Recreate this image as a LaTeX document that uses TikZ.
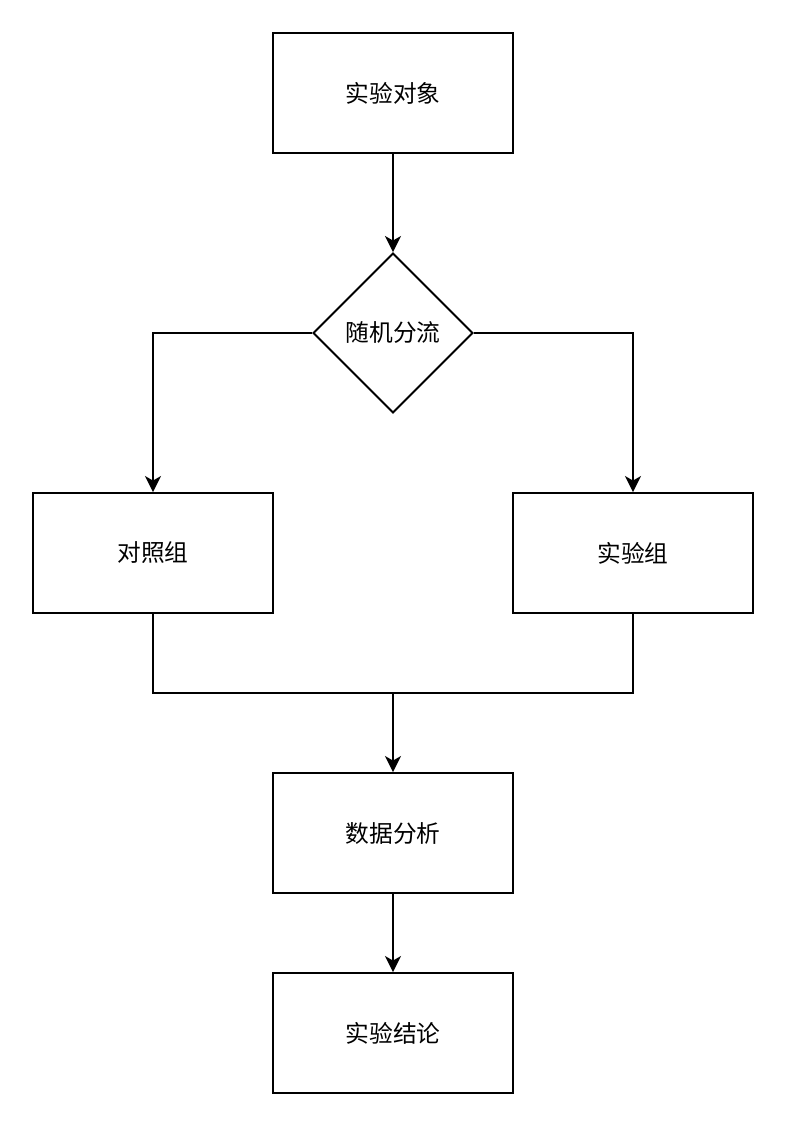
\documentclass[tikz,border=0pt]{standalone}
\usepackage{fontspec}
\setmainfont{Noto Sans CJK SC}
\usepackage{tikz}
\usetikzlibrary{shapes.geometric, arrows.meta, positioning}

\begin{document}
\begin{tikzpicture}[
  box/.style={draw,rectangle,line width=1.1pt,minimum width=4.8cm,
              minimum height=2.4cm,align=center,font=\fontsize{13.5}{16}\selectfont},
  dec/.style={draw,diamond,aspect=1,line width=1.1pt,minimum size=3.2cm,
              inner sep=0pt,align=center,font=\fontsize{13.5}{16}\selectfont},
  conn/.style={line width=1.1pt},
  arr/.style={conn,-{Stealth[length=0.32cm,width=0.32cm,inset=0.09cm]}}
]
\useasboundingbox (0,0) rectangle (15.72,-22.68);
\node[box] (obj)  at (7.86,-1.86)  {实验对象};
\node[dec] (rand) at (7.86,-6.66)  {随机分流};
\node[box] (ctrl) at (3.06,-11.06) {对照组};
\node[box] (expt) at (12.66,-11.06){实验组};
\coordinate (merge) at (7.86,-13.86);
\node[box] (ana)  at (7.86,-16.66) {数据分析};
\node[box] (res)  at (7.86,-20.66) {实验结论};

\draw[arr] (obj)--(rand);
\draw[arr] (rand.west)-|(ctrl.north);
\draw[arr] (rand.east)-|(expt.north);
\draw[conn] (ctrl.south)|-(merge);
\draw[conn] (expt.south)|-(merge);
\draw[arr] (merge)--(ana);
\draw[arr] (ana)--(res);
\end{tikzpicture}
\end{document}
